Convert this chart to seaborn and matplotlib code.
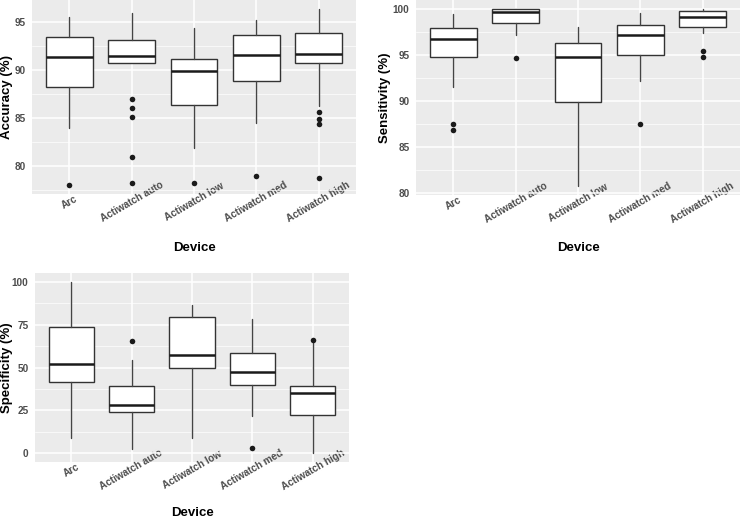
import matplotlib
matplotlib.use("Agg")
import matplotlib.pyplot as plt
import seaborn as sns
from matplotlib.ticker import MultipleLocator

devices = ["Arc", "Actiwatch auto", "Actiwatch low", "Actiwatch med", "Actiwatch high"]

# Accuracy (%)
acc_whislo = [84.0, 90.76, 81.85, 84.45, 86.3]
acc_q1 = [88.2, 90.76, 86.35, 88.9, 90.76]
acc_med = [91.35, 91.5, 89.9, 91.6, 91.65]
acc_q3 = [93.4, 93.13, 91.15, 93.65, 93.82]
acc_whishi = [95.5, 95.95, 94.4, 95.25, 96.4]
acc_fliers = [[78.0], [86.95, 86.1, 85.15, 80.95, 78.2], [78.2], [79.0],
              [85.6, 84.95, 84.35, 78.8]]

# Sensitivity (%)
sen_whislo = [91.5, 97.2, 80.8, 92.2, 97.4]
sen_q1 = [94.76, 98.44, 89.9, 95.0, 98.1]
sen_med = [96.78, 99.64, 94.83, 97.18, 99.13]
sen_q3 = [97.97, 100.0, 96.35, 98.3, 99.82]
sen_whishi = [99.46, 100.0, 98.0, 99.6, 100.0]
sen_fliers = [[87.5, 86.9], [94.65], [], [87.5], [95.48, 94.8]]

# Specificity (%)
spe_whislo = [9.0, 2.7, 9.0, 21.6, 0.0]
spe_q1 = [41.8, 24.3, 50.0, 39.9, 22.6]
spe_med = [51.8, 28.2, 57.2, 47.3, 35.4]
spe_q3 = [73.7, 39.3, 79.2, 58.6, 39.3]
spe_whishi = [100.0, 54.1, 86.4, 78.0, 65.6]
spe_fliers = [[], [65.2], [], [2.9], [66.0]]

sns.set_theme(style="darkgrid", rc={"axes.facecolor": "#EBEBEB", "grid.color": "white"})
plt.rcParams["font.family"] = ["Liberation Sans", "DejaVu Sans"]

fig = plt.figure(figsize=(7.4, 5.19), dpi=100)
W, H = 740, 519


def add_axes(x0, x1, y0, y1):
    return fig.add_axes([x0 / W, (H - y1) / H, (x1 - x0) / W, (y1 - y0) / H])


def draw(ax, whislo, q1, med, q3, whishi, fliers, ylim, major, minor, ylabel,
         ylab_x, xlab_y):
    stats = []
    for i, name in enumerate(devices):
        stats.append(dict(label=name, whislo=whislo[i], q1=q1[i], med=med[i],
                          q3=q3[i], whishi=whishi[i], fliers=fliers[i]))
    ax.set_axisbelow(True)
    ax.bxp(stats, positions=range(len(devices)), widths=0.75, patch_artist=True,
           showcaps=False, showfliers=True,
           boxprops=dict(facecolor="white", edgecolor="#333333", linewidth=1.0),
           medianprops=dict(color="#1a1a1a", linewidth=1.8),
           whiskerprops=dict(color="#444444", linewidth=1.0),
           flierprops=dict(marker="o", markerfacecolor="#1a1a1a",
                           markeredgecolor="none", markersize=4))
    ax.set_xlim(-0.6, len(devices) - 0.4)
    ax.set_ylim(*ylim)
    ax.yaxis.set_major_locator(MultipleLocator(major))
    ax.yaxis.set_minor_locator(MultipleLocator(minor))
    ax.grid(which="major", color="white", linewidth=1.1)
    ax.grid(which="minor", axis="y", color="white", linewidth=0.5)
    ax.grid(which="minor", axis="x", visible=False)
    for s in ax.spines.values():
        s.set_visible(False)
    ax.tick_params(which="major", length=2.7, width=0.8, color="#333333",
                   labelsize=7.2, labelcolor="#4D4D4D", pad=2)
    ax.tick_params(axis="x", which="major", pad=3.2)
    ax.tick_params(which="minor", length=0)
    ax.set_xticks(range(len(devices)))
    ax.set_xticklabels(devices, rotation=30, ha="center", va="center",
                       fontweight="bold")
    for t in ax.get_yticklabels():
        t.set_fontweight("bold")
    ax.set_xlabel("")
    ax.set_ylabel("")
    bb = ax.get_position()
    xc = (bb.x0 + bb.x1) / 2
    yc = (bb.y0 + bb.y1) / 2
    fig.text(xc, 1 - xlab_y / H, "Device", fontsize=9.5, fontweight="bold",
             color="black", ha="center", va="center")
    fig.text(ylab_x / W, yc, ylabel, fontsize=9.5, fontweight="bold",
             color="black", ha="center", va="center", rotation=90)


ax1 = add_axes(32, 356, 0, 194)
draw(ax1, acc_whislo, acc_q1, acc_med, acc_q3, acc_whishi, acc_fliers,
     (77.1, 97.3), 5, 2.5, "Accuracy (%)", 7, 248)

ax2 = add_axes(416, 740, 0, 195)
draw(ax2, sen_whislo, sen_q1, sen_med, sen_q3, sen_whishi, sen_fliers,
     (79.82, 100.98), 5, 2.5, "Sensitivity (%)", 385, 248)

ax3 = add_axes(35, 349, 273, 462)
draw(ax3, spe_whislo, spe_q1, spe_med, spe_q3, spe_whishi, spe_fliers,
     (-5.0, 105.0), 25, 12.5, "Specificity (%)", 7, 513)

fig.savefig("out.png", dpi=100)
